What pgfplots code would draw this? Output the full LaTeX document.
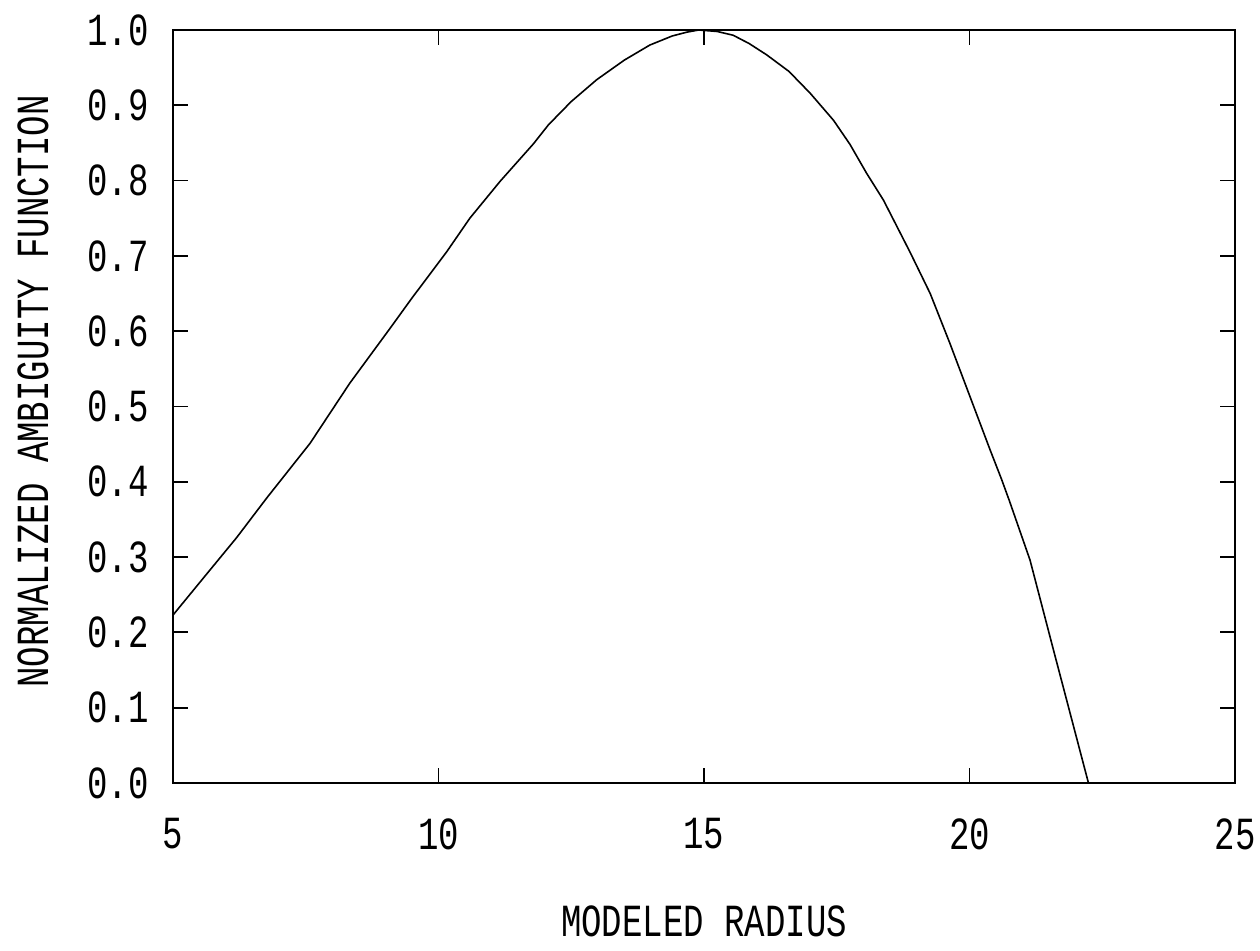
\documentclass[border=0pt]{standalone}
\usepackage{fontspec}
\setmainfont[FakeStretch=0.74,Numbers=SlashedZero]{Liberation Mono}
\usepackage{pgfplots}
\pgfplotsset{compat=1.18}
\begin{document}
\fontsize{23pt}{26pt}\selectfont
\begin{tikzpicture}
\begin{axis}[
  name=ax,
  width=531pt, height=376.5pt,
  scale only axis,
  xmin=5, xmax=25, ymin=0, ymax=1,
  xtick={5,10,15,20,25},
  ytick={0,0.1,...,1.0},
  tick align=inside,
  xtick pos=both, ytick pos=both,
  xticklabel pos=bottom, yticklabel pos=left,
  major tick length=7.5pt,
  tick style={line width=0.9pt, black},
  axis line style={line width=1pt},
  /pgf/number format/assume math mode=true,
  yticklabel={\pgfmathprintnumber[fixed,fixed zerofill,precision=1]{\tick}},
  xticklabel={\pgfmathprintnumber[fixed,precision=0]{\tick}},
  ticklabel style={font=\fontsize{23pt}{26pt}\selectfont, inner sep=0pt},
  yticklabel style={xshift=-12pt},
  xticklabel style={anchor=center, yshift=-25.5pt},
  xlabel={MODELED RADIUS},
  ylabel={NORMALIZED AMBIGUITY FUNCTION},
  label style={font=\fontsize{23pt}{26pt}\selectfont, inner sep=0pt},
  xlabel style={at={(axis description cs:0.5,-0.162)}, anchor=north},
  ylabel style={at={(axis description cs:-0.147,0.52)}, anchor=north, rotate=0},
  clip=false,
]
\addplot[black, line width=0.8pt] coordinates {
(5.00,0.223) (5.57,0.272) (6.20,0.326) (6.76,0.378) (7.58,0.451)
(8.33,0.531) (9.09,0.604) (9.50,0.644) (10.15,0.705) (10.59,0.750)
(11.16,0.799) (11.79,0.849) (12.07,0.874) (12.50,0.905) (12.98,0.934) (13.50,0.960) (13.98,0.980)
(14.40,0.992) (14.67,0.997) (14.90,1.000) (15.25,0.998) (15.55,0.993) (15.85,0.982) (16.18,0.967) (16.60,0.945) (17.00,0.916)
(17.44,0.880) (17.75,0.848) (18.06,0.810) (18.38,0.774) (18.88,0.705) (19.26,0.650)
(19.63,0.584) (20.01,0.513) (20.39,0.442) (20.60,0.404) (20.75,0.375)
(21.14,0.296) (21.58,0.177) (21.83,0.110) (22.24,0.000)
};
\end{axis}
\path ([shift={(-86.5pt,-84pt)}]ax.south west) rectangle ([shift={(12.5pt,15pt)}]ax.north east);
\end{tikzpicture}
\end{document}
